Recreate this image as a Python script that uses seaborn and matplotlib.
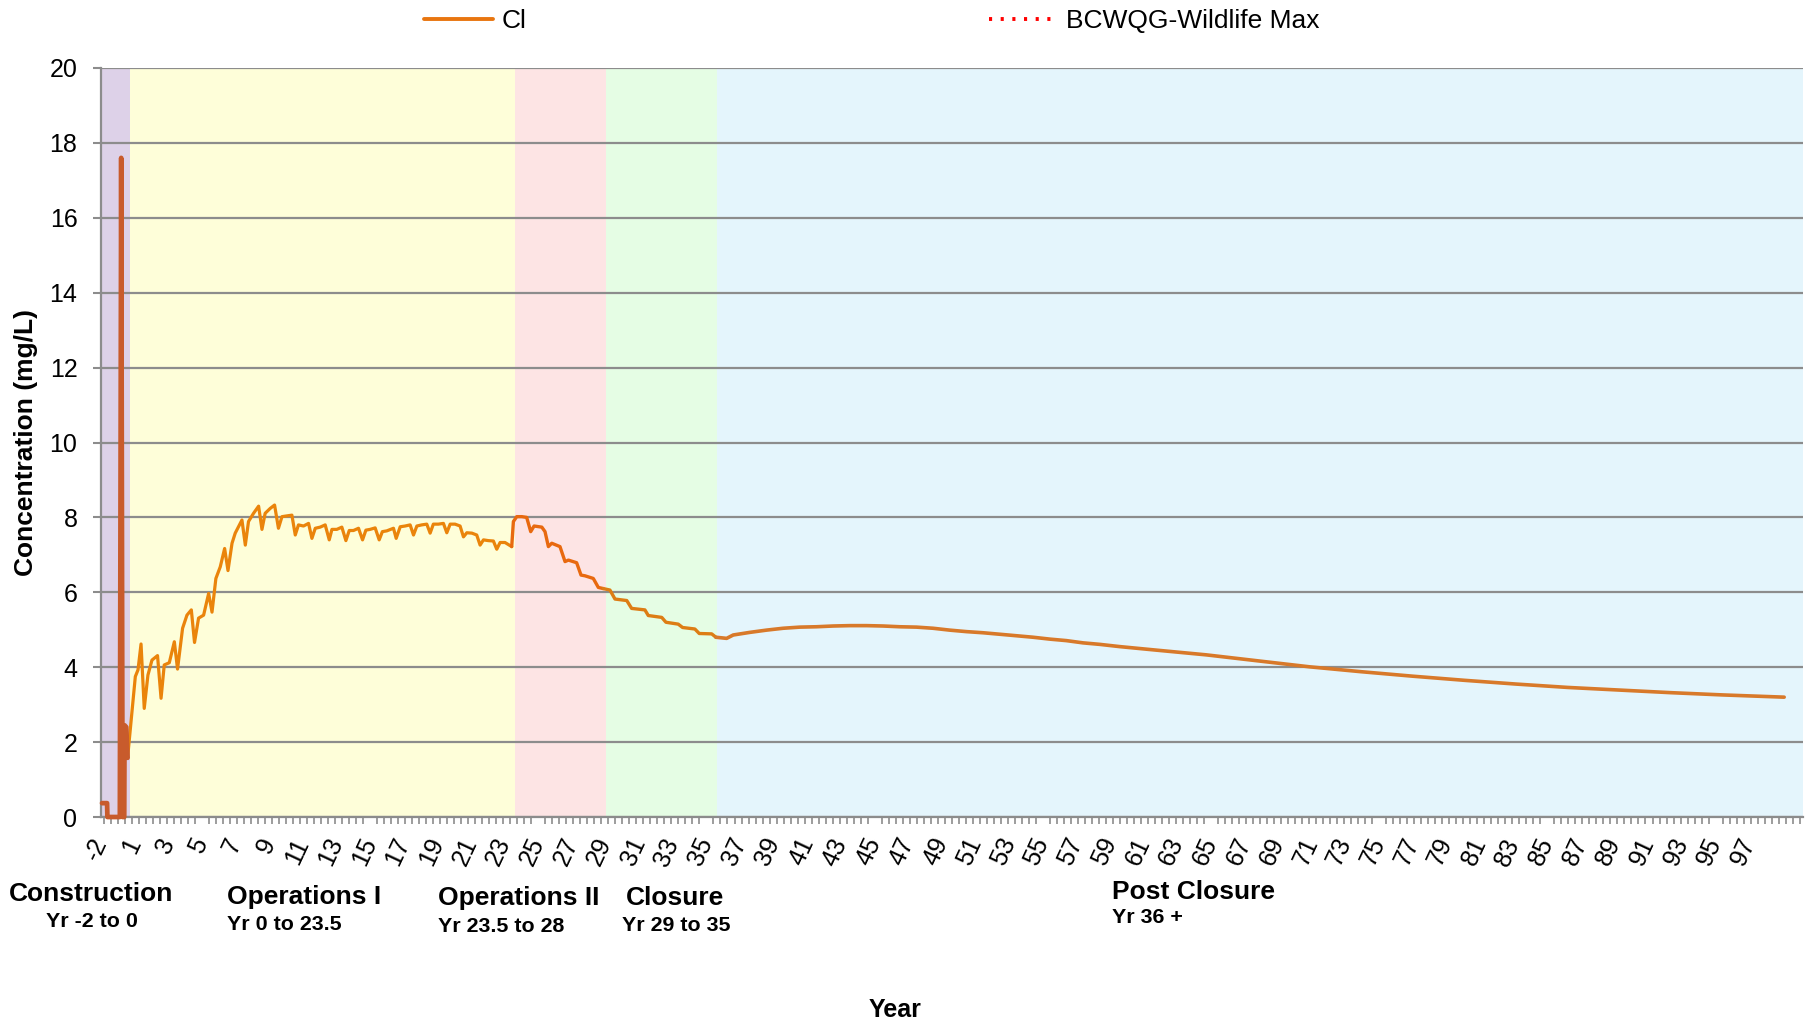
import matplotlib
matplotlib.use("Agg")
import matplotlib.pyplot as plt
from matplotlib.lines import Line2D
from matplotlib.ticker import MultipleLocator
from matplotlib.transforms import ScaledTranslation
import seaborn as sns

# ---- data ----
# x = position along the year axis, y = Cl concentration (mg/L)
construction_year = [-0.94, -0.64, -0.62, 0.12, 0.20, 0.28, 0.38, 0.40, 0.50, 0.58]
construction_cl = [0.37, 0.37, 0.0, 0.0, 17.6, 0.0, 0.0, 2.45, 2.40, 1.58]

operations1_year = [1.04, 1.20, 1.38, 1.57, 1.79, 2.03, 2.36, 2.57, 2.76, 3.06,
                    3.36, 3.55, 3.85, 4.11, 4.37, 4.56, 4.80, 5.10, 5.40, 5.60,
                    5.83, 6.09, 6.35, 6.55, 6.79, 6.98, 7.38, 7.58, 7.77, 8.07,
                    8.37, 8.57, 8.76, 9.06, 9.32, 9.55, 9.76, 10.05, 10.35, 10.55,
                    10.74, 11.04, 11.34, 11.54, 11.74, 12.03, 12.33, 12.57, 12.73, 13.02,
                    13.32, 13.56, 13.76, 14.01, 14.31, 14.55, 14.75, 15.00, 15.30, 15.54,
                    15.73, 15.99, 16.39, 16.55, 16.79, 17.08, 17.38, 17.58, 17.78, 18.07,
                    18.37, 18.57, 18.76, 19.06, 19.36, 19.56, 19.76, 20.05, 20.35, 20.55,
                    20.75, 21.05, 21.34, 21.54, 21.74, 22.03, 22.33, 22.53, 22.73, 23.02,
                    23.42]
operations1_cl = [3.75, 3.93, 4.62, 2.90, 3.79, 4.19, 4.31, 3.17, 4.06, 4.12,
                  4.68, 3.95, 5.04, 5.39, 5.53, 4.66, 5.31, 5.39, 5.97, 5.47,
                  6.37, 6.68, 7.17, 6.58, 7.31, 7.58, 7.93, 7.26, 7.89, 8.11,
                  8.30, 7.68, 8.11, 8.24, 8.33, 7.71, 8.02, 8.04, 8.06, 7.53,
                  7.80, 7.77, 7.84, 7.44, 7.71, 7.74, 7.80, 7.40, 7.68, 7.68,
                  7.74, 7.38, 7.65, 7.65, 7.71, 7.40, 7.66, 7.68, 7.72, 7.40,
                  7.62, 7.64, 7.71, 7.44, 7.75, 7.77, 7.80, 7.53, 7.77, 7.80,
                  7.82, 7.58, 7.82, 7.82, 7.84, 7.59, 7.82, 7.82, 7.77, 7.48,
                  7.59, 7.58, 7.53, 7.26, 7.40, 7.38, 7.37, 7.15, 7.33, 7.33,
                  7.22]

operations2_year = [23.52, 23.72, 24.02, 24.31, 24.55, 24.75, 25.21, 25.40, 25.60, 25.80,
                    26.29, 26.59, 26.79, 27.28, 27.54, 27.78, 28.27, 28.57, 28.86]
operations2_cl = [7.89, 8.02, 8.02, 8.00, 7.62, 7.77, 7.74, 7.62, 7.22, 7.31,
                  7.22, 6.82, 6.86, 6.79, 6.46, 6.44, 6.37, 6.13, 6.10]

closure_year = [29.26, 29.56, 30.26, 30.55, 31.34, 31.54, 32.34, 32.59, 33.32, 33.58,
                34.31, 34.57, 35.31, 35.56]
closure_cl = [6.06, 5.82, 5.78, 5.57, 5.53, 5.38, 5.33, 5.20, 5.15, 5.06,
              5.02, 4.90, 4.89, 4.80]

post_closure_year = [36.20, 36.59, 37.58, 38.57, 39.56, 40.55, 41.54, 42.53, 43.52, 44.52,
                     45.50, 46.49, 47.49, 48.47, 49.46, 50.46, 51.44, 52.44, 53.43, 54.42,
                     55.41, 56.40, 57.39, 58.38, 59.57, 61.65, 64.71, 67.78, 70.86, 73.92,
                     76.99, 80.06, 83.13, 86.20, 89.26, 92.34, 95.40, 99.08]
post_closure_cl = [4.77, 4.86, 4.93, 4.99, 5.04, 5.07, 5.08, 5.10, 5.11, 5.11,
                   5.10, 5.08, 5.07, 5.04, 4.99, 4.95, 4.92, 4.88, 4.84, 4.80,
                   4.75, 4.71, 4.65, 4.61, 4.55, 4.46, 4.33, 4.17, 4.01, 3.88,
                   3.76, 3.65, 3.55, 3.46, 3.39, 3.32, 3.26, 3.20]

# guideline is far above the plotted range (only shows in the legend)
bcwqg_year = [-1.0, 100.2]
bcwqg_max = [600.0, 600.0]

phase_names = ["Construction", "Operations I", "Operations II", "Closure", "Post Closure"]
phase_years = ["Yr -2 to 0", "Yr 0 to 23.5", "Yr 23.5 to 28", "Yr 29 to 35", "Yr 36 +"]
phase_start = [-1.0, 0.74, 23.62, 29.03, 35.62]
phase_end = [0.74, 23.62, 29.03, 35.62, 100.2]

xtick_pos = [-1] + list(range(1, 98, 2))
xtick_labels = ["-2"] + [str(v) for v in range(1, 98, 2)]

# ---- styling ----
phase_colors = ["#DDD1E8", "#FEFED9", "#FDE4E4", "#E5FDE4", "#E4F5FC"]
segment_colors = ["#C85B2C", "#EA840B", "#E8690F", "#DD7D14", "#D8792A"]
segment_widths = [3.4, 2.3, 2.4, 2.4, 2.6]
grid_grey = "#8C8C8C"

sns.set_style("white")
plt.rcParams["font.family"] = ["Liberation Sans", "DejaVu Sans"]
plt.rcParams["text.color"] = "black"
plt.rcParams["axes.labelcolor"] = "black"

fig, ax = plt.subplots(figsize=(18.07, 10.21), dpi=100)
fig.subplots_adjust(left=0.0559, right=0.9978, bottom=0.1998, top=0.9334)

for start, end, col in zip(phase_start, phase_end, phase_colors):
    ax.axvspan(start, end, color=col, lw=0, zorder=0.1)

segments = [
    (construction_year, construction_cl),
    (operations1_year, operations1_cl),
    (operations2_year, operations2_cl),
    (closure_year, closure_cl),
    (post_closure_year, post_closure_cl),
]
prev = None
for i, (xs, ys) in enumerate(segments):
    xs, ys = list(xs), list(ys)
    if prev is not None:
        # join each phase onto the end of the previous one
        xs = [prev[0]] + xs
        ys = [prev[1]] + ys
    sns.lineplot(x=xs, y=ys, ax=ax, color=segment_colors[i], lw=segment_widths[i],
                 estimator=None, sort=False, legend=False, zorder=3 + (i == 0),
                 clip_on=False)
    prev = (xs[-1], ys[-1])

sns.lineplot(x=bcwqg_year, y=bcwqg_max, ax=ax, color="red", lw=2.6,
             linestyle=(0, (0.8, 2.2)), estimator=None, legend=False)

ax.set_xlim(-1.0, 100.2)
ax.set_ylim(0, 20)
ax.set_yticks(range(0, 21, 2))
ax.set_xticks(xtick_pos)
ax.set_xticklabels(xtick_labels, rotation=65, ha="right", va="center",
                   rotation_mode="anchor")
ax.xaxis.set_minor_locator(MultipleLocator(5 / 12))

# nudge the slanted year labels a little to the right
shift = ScaledTranslation(8 / 100, 0, fig.dpi_scale_trans)
for lab in ax.get_xticklabels():
    lab.set_transform(lab.get_transform() + shift)

ax.tick_params(axis="y", labelsize=18, length=6, width=1.5, color=grid_grey,
               labelcolor="black", pad=11, left=True)
ax.tick_params(axis="x", which="major", labelsize=18, length=0, pad=16,
               labelcolor="black")
ax.tick_params(axis="x", which="minor", length=5, width=1.2, color=grid_grey,
               bottom=True)

ax.set_axisbelow(True)
ax.yaxis.grid(True, color=grid_grey, lw=1.6)
ax.xaxis.grid(False)
for side in ["top", "right"]:
    ax.spines[side].set_visible(False)
for side in ["left", "bottom"]:
    ax.spines[side].set_color(grid_grey)
    ax.spines[side].set_linewidth(1.6)

ax.set_ylabel("Concentration (mg/L)", fontsize=19, fontweight="bold")
ax.yaxis.set_label_coords(-0.037, 0.5)
ax.set_xlabel("Year", fontsize=18, fontweight="bold")
ax.xaxis.set_label_coords(0.4665, -0.242)

# phase captions under the axis
name_pos = [(0.0504, 0.1244, "center"), (0.1256, 0.1214, "left"), (0.2424, 0.1205, "left"),
            (0.3464, 0.1205, "left"), (0.6154, 0.1263, "left")]
year_pos = [(0.0509, 0.0979, "center"), (0.1256, 0.0950, "left"), (0.2424, 0.0921, "left"),
            (0.3442, 0.0940, "left"), (0.6154, 0.1009, "left")]
for name, yrs, (nx, ny, nha), (yx, yy, yha) in zip(phase_names, phase_years, name_pos, year_pos):
    fig.text(nx, ny, name, fontsize=19, fontweight="bold", ha=nha, va="center")
    fig.text(yx, yy, yrs, fontsize=15.4, fontweight="bold", ha=yha, va="center")

handles = [
    Line2D([], [], color="#E8750F", lw=2.8),
    Line2D([], [], color="red", lw=2.8, linestyle=(0, (0.8, 2.2))),
]
fig.legend(handles, ["Cl", "BCWQG-Wildlife Max"], loc="center",
           bbox_to_anchor=(0.4826, 0.979), ncol=2, frameon=False, fontsize=19,
           handlelength=2.6, handletextpad=0.35, columnspacing=17.5)

fig.savefig("out.png", dpi=100)
